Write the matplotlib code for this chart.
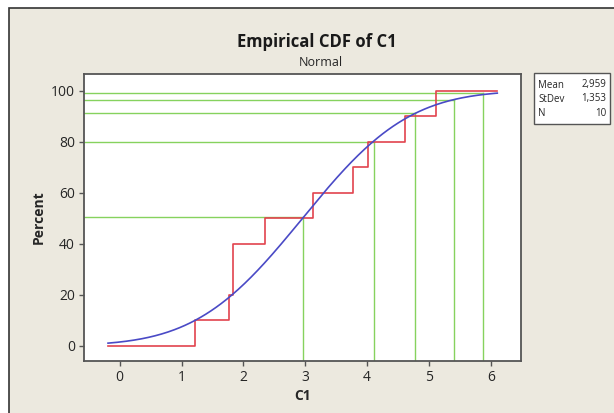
import math

import numpy as np
from matplotlib import pyplot as plt
from matplotlib.patches import Rectangle

# sample C1 (sorted) and its fitted normal
c1 = [1.22, 1.77, 1.84, 1.84, 2.35, 3.13, 3.77, 4.01, 4.62, 5.12]
mean_c1 = 2.959
stdev_c1 = 1.353
n_c1 = 10

# reference lines: x position and percent level
ref_x = [2.96, 4.12, 4.78, 5.40, 5.87]
ref_pct = [50.4, 80.0, 91.4, 96.4, 99.1]

x_ticks = [0, 1, 2, 3, 4, 5, 6]
y_ticks = [0, 20, 40, 60, 80, 100]

W, H = 614, 413
BG = "#ECE9DF"
RED = "#E2434E"
BLUE = "#4A4AC6"
GREEN = "#86D25E"
FRAME = "#555555"
TXT = "#262626"

plt.rcParams["font.family"] = ["Open Sans", "DejaVu Sans"]


def norm_cdf(x, mu, sd):
    return np.array([0.5 * (1 + math.erf((v - mu) / (sd * math.sqrt(2)))) for v in x])


def px(x0, y0, x1, y1):
    # pixel box (top-left origin) -> figure fraction rect
    return [x0 / W, 1 - y1 / H, (x1 - x0) / W, (y1 - y0) / H]


fig = plt.figure(figsize=(W / 100, H / 100), dpi=100, facecolor="white")

# window panel with its dark outline, kept behind the axes
panel = Rectangle((9 / W, -0.05), 1.1, 1 - 8 / H + 0.05, transform=fig.transFigure,
                  facecolor=BG, edgecolor="#333333", linewidth=1.2, zorder=-10)
fig.add_artist(panel)

ax = fig.add_axes(px(84, 74, 521, 361))
ax.set_facecolor("white")
xlim = (-0.577, 6.49)
ylim = (-6.0, 106.5)

# fitted normal drawn between its 1st and 99th percentiles
z99 = 2.3263
lo, hi = mean_c1 - z99 * stdev_c1, mean_c1 + z99 * stdev_c1
xs = np.linspace(lo, hi, 300)
ax.plot(xs, norm_cdf(xs, mean_c1, stdev_c1) * 100, color=BLUE, lw=1.2, zorder=4)

# empirical step function
step_x = [lo] + c1 + [hi]
step_y = [0] + [100 * (i + 1) / n_c1 for i in range(n_c1)] + [100]
ax.step(step_x, step_y, where="post", color=RED, lw=1.2, zorder=3)

for rx, rp in zip(ref_x, ref_pct):
    ax.plot([xlim[0], rx], [rp, rp], color=GREEN, lw=1.0, zorder=2)
    ax.plot([rx, rx], [ylim[0], rp], color=GREEN, lw=1.0, zorder=2)

ax.set_xlim(xlim)
ax.set_ylim(ylim)
ax.set_xticks(x_ticks)
ax.set_yticks(y_ticks)
ax.tick_params(length=3.5, width=1, color=FRAME, labelsize=10, labelcolor=TXT, pad=3)
for s in ax.spines.values():
    s.set_color(FRAME)
    s.set_linewidth(1.3)

ax.set_xlabel("C1", fontsize=10, fontweight="bold", color=TXT, labelpad=3)
ax.set_ylabel("Percent", fontsize=10, fontweight="bold", color=TXT, labelpad=4)

fig.text(317 / W, 1 - 42 / H, "Empirical CDF of C1", ha="center", va="center",
         fontsize=12, fontweight="bold", color="#1a1a1a")
fig.text(321 / W, 1 - 62 / H, "Normal", ha="center", va="center", fontsize=9, color=TXT)

# summary box
fig.add_artist(Rectangle((534 / W, 1 - 124 / H), 76 / W, 51 / H, transform=fig.transFigure,
                         facecolor="white", edgecolor=FRAME, linewidth=1.0, zorder=1))
rows = [("Mean", "2,959"), ("StDev", "1,353"), ("N", str(n_c1))]
for i, (k, v) in enumerate(rows):
    yy = 1 - (85 + 14 * i) / H
    fig.text(538 / W, yy, k, ha="left", va="center", fontsize=7, color=TXT)
    fig.text(606 / W, yy, v, ha="right", va="center", fontsize=7, color=TXT)

fig.savefig("out.png", dpi=100, facecolor=fig.get_facecolor())
